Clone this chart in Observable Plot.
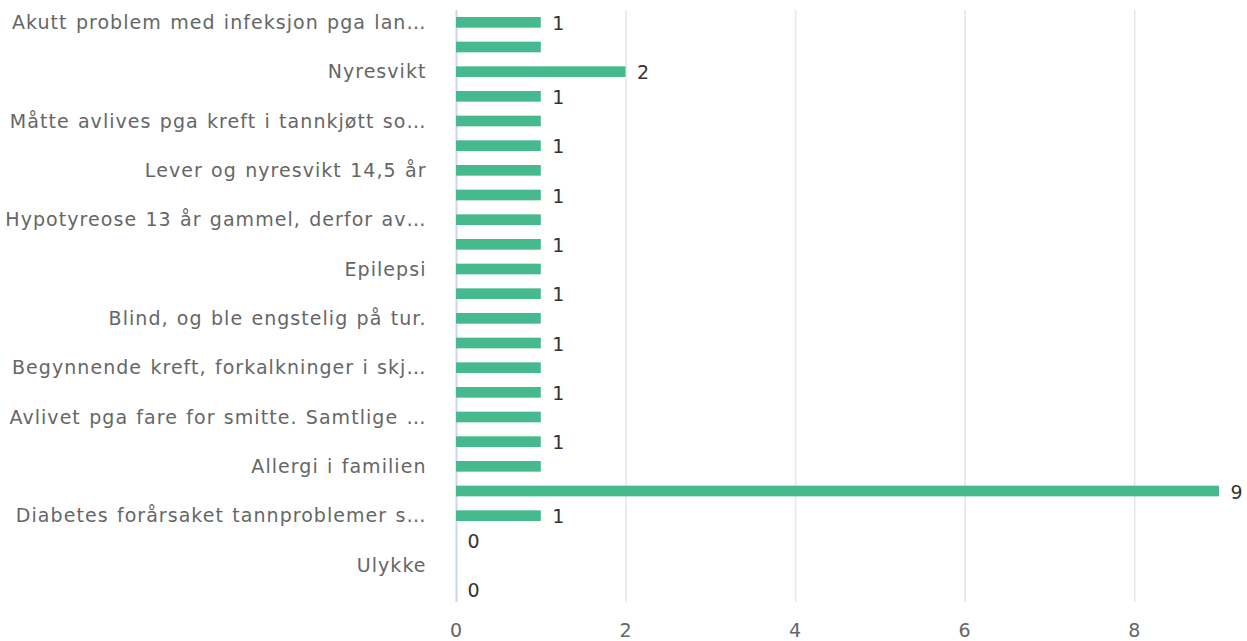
<!DOCTYPE html>
<html>
<head>
<meta charset="utf-8">
<script src="https://cdn.jsdelivr.net/npm/d3@7"></script>
<script src="https://cdn.jsdelivr.net/npm/@observablehq/plot@0.6"></script>
<style>
  html, body { margin: 0; padding: 0; background: #fff; overflow: hidden; }
  svg { display: block; }
  svg text { letter-spacing: 1.05px; word-spacing: 1.2px; }
</style>
</head>
<body>
<div id="chart"></div>
<script>
// Category tick labels (only every other band is labelled in the source)
const categoryLabels = [
  "Akutt problem med infeksjon pga lan…", "",
  "Nyresvikt", "",
  "Måtte avlives pga kreft i tannkjøtt so…", "",
  "Lever og nyresvikt 14,5 år", "",
  "Hypotyreose 13 år gammel, derfor av…", "",
  "Epilepsi", "",
  "Blind, og ble engstelig på tur.", "",
  "Begynnende kreft, forkalkninger i skj…", "",
  "Avlivet pga fare for smitte. Samtlige …", "",
  "Allergi i familien", "",
  "Diabetes forårsaket tannproblemer s…", "",
  "Ulykke", ""
];
// Bar values
const counts = [1, 1, 2, 1, 1, 1, 1, 1, 1, 1, 1, 1, 1, 1, 1, 1, 1, 1, 1, 9, 1, 0, 0, 0];
// Bars whose value label is shown
const labelledBars = [0, 2, 3, 5, 7, 9, 11, 13, 15, 17, 19, 20, 21, 23];
// X ticks
const xTicks = [0, 2, 4, 6, 8];
const gridTicks = [2, 4, 6, 8];

const data = counts.map((v, i) => ({i, v}));
const labelData = data.filter(d => labelledBars.includes(d.i));

const chart = Plot.plot({
  width: 1247,
  height: 641,
  marginLeft: 456,
  marginRight: 28,
  marginTop: 10,
  marginBottom: 39,
  style: {fontFamily: "DejaVu Sans", fontSize: "19px", color: "#666", background: "#fff"},
  x: {domain: [0, 9]},
  y: {type: "band", domain: d3.range(counts.length), padding: 0, round: false},
  marks: [
    Plot.ruleX(gridTicks, {stroke: "#e6e6e6", strokeWidth: 1.5}),
    Plot.ruleX([0], {stroke: "#ccd6eb", strokeWidth: 2}),
    Plot.barX(data, {x: "v", y: "i", fill: "#46b98e", insetTop: 7, insetBottom: 7}),
    Plot.text(labelData, {x: "v", y: "i", text: d => String(d.v), textAnchor: "start", dx: 11, dy: 1, fill: "#333", fontSize: 19}),
    Plot.axisY({tickSize: 0, tickPadding: 30, tickFormat: i => categoryLabels[i], label: null}),
    Plot.axisX({ticks: xTicks, tickSize: 0, tickPadding: 21, label: null})
  ]
});
document.getElementById("chart").appendChild(chart);
</script>
</body>
</html>
